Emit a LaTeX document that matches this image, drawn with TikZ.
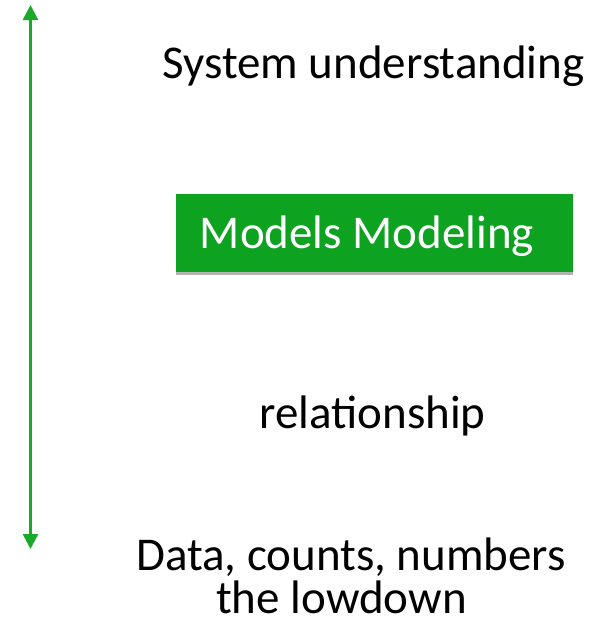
\documentclass[tikz,border=0pt]{standalone}
\usepackage{fontspec}
\setmainfont{Carlito}
\usetikzlibrary{arrows.meta,shadows}
\definecolor{arrgreen}{HTML}{1AAA2A}
\definecolor{boxgreen}{HTML}{0EA221}
\tikzset{
  lbl/.style={anchor=base, inner sep=0pt, font=\fontsize{47}{43}\selectfont, text=black},
  greenbox/.style={fill=boxgreen, draw=none, inner sep=0pt, minimum width=397pt, minimum height=78pt,
    drop shadow={shadow xshift=0pt, shadow yshift=-3pt, opacity=0.3, fill=black}},
  axis/.style={draw=arrgreen, line width=2.5pt, {Triangle[width=15pt,length=15pt]}-{Triangle[width=15pt,length=15pt]}}
}
\begin{document}
\begin{tikzpicture}[x=1pt,y=-1pt]
\useasboundingbox (0,0) rectangle (610,621);
\coordinate (top) at (30.5,5);
\coordinate (bot) at (30.5,549);
\draw[axis] (bot) -- (top);
\node[lbl] (sys) at (373.5,78) {System understanding};
\node[greenbox] (box) at (374.5,233) {};
\node[lbl, text=white] (mod) at (367,248) {Models Modeling};
\node[lbl] (rel) at (372.5,428) {relationship};
\node[lbl, align=center] (data) at (351,613) {Data, counts, numbers\\the lowdown\kern19pt};
\end{tikzpicture}
\end{document}
